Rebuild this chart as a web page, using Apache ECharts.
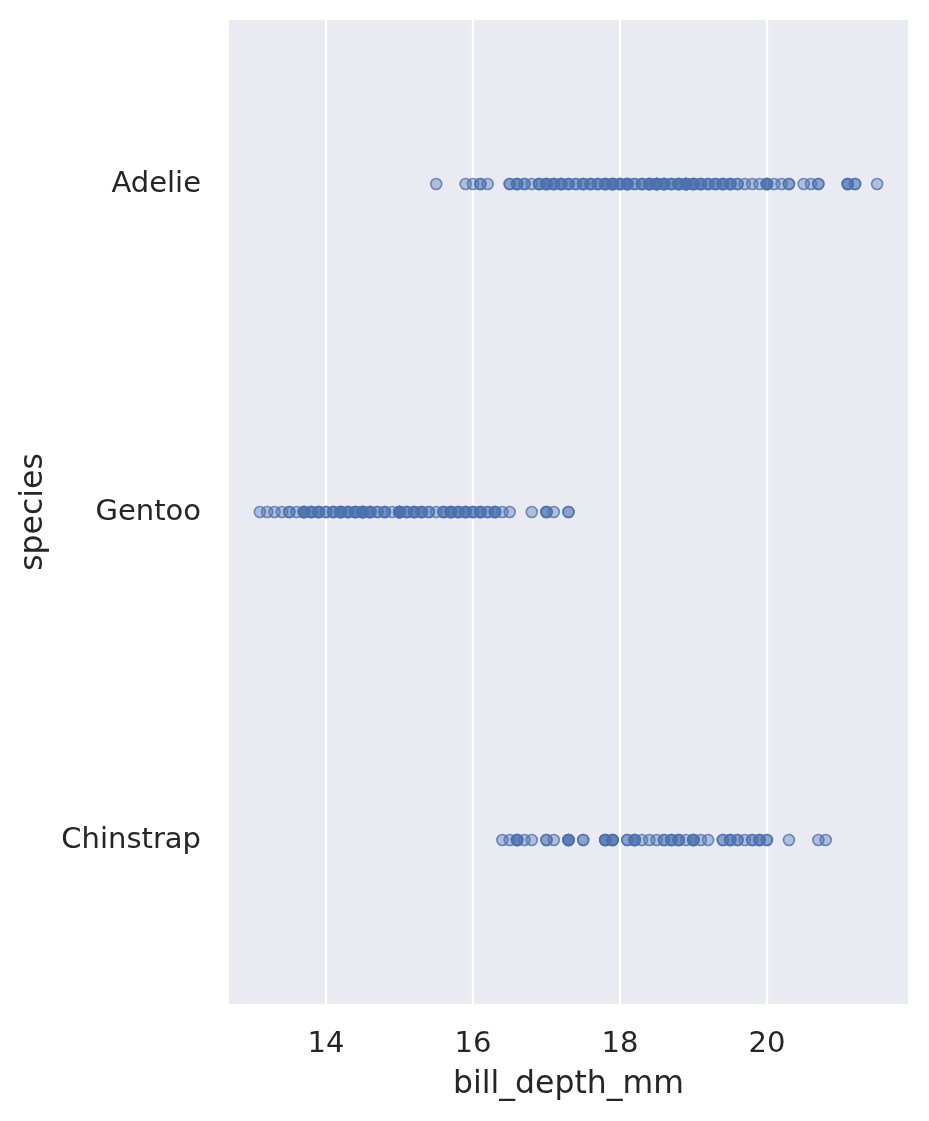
<!DOCTYPE html>
<html><head><meta charset="utf-8">
<script src="https://cdn.jsdelivr.net/npm/echarts@6/dist/echarts.min.js"></script>
<style>html,body{margin:0;padding:0;background:#fff}#c{width:929px;height:1121px}</style>
</head><body><div id="c"></div>
<script>
const categories = ['Adelie', 'Gentoo', 'Chinstrap'];
const adelie = [18.7,17.4,18.0,19.3,20.6,17.8,19.6,18.1,20.2,17.1,17.3,17.6,21.2,21.1,17.8,19.0,20.7,18.4,21.5,18.3,18.7,19.2,18.1,17.2,18.9,18.6,17.9,18.6,18.9,16.7,18.1,17.8,18.9,17.0,21.1,20.0,18.5,19.3,19.1,18.0,18.4,18.5,19.7,16.9,18.8,19.0,18.9,17.9,21.2,17.7,18.9,17.9,19.5,18.1,18.6,17.5,18.8,16.6,19.1,16.9,21.1,17.0,18.2,17.1,18.0,16.2,19.1,16.6,19.4,19.0,18.4,17.2,18.9,17.5,18.5,16.8,19.4,16.1,19.1,17.2,17.6,18.8,19.4,17.8,20.3,19.5,18.6,19.2,18.8,18.0,18.1,17.1,18.1,17.3,18.9,18.6,18.5,16.1,18.5,17.9,20.0,16.0,20.0,18.6,18.9,17.2,20.0,17.0,19.0,16.5,20.3,17.7,19.5,20.7,18.3,16.6,19.9,17.9,18.5,17.9,19.6,18.4,17.8,20.1,17.1,18.8,20.0,16.5,17.0,19.4,17.5,19.0,16.9,19.2,18.9,17.0,19.5,17.3,18.4,18.5,20.5,15.5,15.9,19.8,18.2,16.7,17.6,18.3,17.4,18.7,19.3,18.4,17.7];
const gentoo = [13.2,16.3,14.1,15.2,14.5,13.5,14.6,15.3,13.4,15.4,13.7,16.1,13.7,14.6,14.6,15.7,13.5,15.2,14.5,15.1,14.3,14.5,14.5,15.8,13.1,15.1,14.3,15.0,14.3,15.3,15.3,14.2,14.5,17.0,14.8,16.3,13.7,17.3,13.6,15.7,13.7,16.0,13.7,15.0,15.9,13.9,13.9,15.9,13.3,15.8,14.2,14.1,14.4,15.0,14.4,15.4,13.9,15.0,14.5,15.3,13.8,14.9,13.9,15.7,14.2,16.8,14.4,16.2,14.2,15.0,15.0,15.6,15.6,14.8,15.0,16.0,14.2,16.3,13.8,16.4,14.5,15.6,14.6,15.9,13.8,17.3,14.4,14.2,14.0,17.0,15.0,17.1,14.5,16.1,14.7,15.7,15.8,14.6,14.4,16.5,15.0,17.0,15.5,15.0,13.8,16.1,14.7,15.8,14.0,15.1,15.2,15.9,15.2,16.3,14.1,16.0,16.2,13.7,14.3,15.7,14.8,16.1];
const chinstrap = [17.9,19.5,19.2,18.7,19.8,17.8,18.2,18.2,18.9,19.9,17.8,20.3,17.3,18.1,17.1,19.6,20.0,17.8,18.6,18.2,17.3,17.5,16.6,19.4,17.9,19.0,18.4,19.0,17.8,20.0,16.6,20.8,16.7,18.8,18.6,16.8,18.3,20.7,16.6,19.9,19.5,17.5,19.1,17.0,17.9,18.5,17.9,19.6,18.7,17.3,16.4,19.0,17.3,19.7,17.3,18.8,16.6,19.9,18.8,19.4,19.5,16.5,17.0,19.8,18.1,18.2,19.0,18.7];
const xTicks = [14, 16, 18, 20];

const seriesValues = [adelie, gentoo, chinstrap];
const data = [];
seriesValues.forEach((arr, i) => arr.forEach(v => data.push([v, categories[i]])));

const chart = echarts.init(document.getElementById('c'), null, {renderer: 'canvas'});
const txt = '#262626';
const font = 'DejaVu Sans';
chart.setOption({
  animation: false,
  backgroundColor: '#ffffff',
  grid: {left: 229, right: 21, top: 20, bottom: 117, show: true, backgroundColor: '#eaeaf2', borderWidth: 0},
  xAxis: {
    type: 'value', min: 12.68, max: 21.92,
    name: 'bill_depth_mm', nameLocation: 'middle', nameGap: 65,
    nameTextStyle: {color: txt, fontSize: 31.5, fontFamily: font},
    axisLine: {show: false}, axisTick: {show: false, customValues: xTicks},
    axisLabel: {customValues: xTicks, color: txt, fontSize: 29, fontFamily: font, margin: 26},
    splitLine: {show: true, lineStyle: {color: '#ffffff', width: 2.2}}
  },
  yAxis: {
    type: 'category', data: categories, inverse: true, boundaryGap: true,
    name: 'species', nameLocation: 'middle', nameGap: 179, nameRotate: 90,
    nameTextStyle: {color: txt, fontSize: 31.5, fontFamily: font},
    axisLine: {show: false}, axisTick: {show: false},
    axisLabel: {color: txt, fontSize: 29, fontFamily: font, margin: 28},
    splitLine: {show: false}
  },
  series: [{
    type: 'scatter', data: data, symbol: 'circle', symbolSize: 11,
    itemStyle: {color: 'rgba(76,114,176,0.45)', borderColor: '#4c72b0', borderWidth: 1.6}
  }]
});
</script></body></html>
